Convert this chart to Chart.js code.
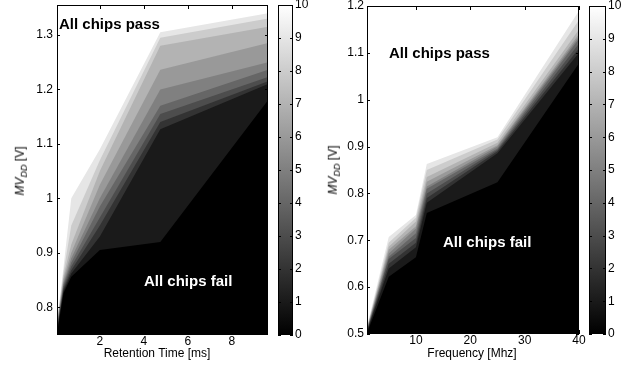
<!DOCTYPE html>
<html>
<head>
<meta charset="utf-8">
<script src="https://cdn.jsdelivr.net/npm/chart.js@4.4.0/dist/chart.umd.min.js"></script>
<style>
body { margin: 0; background: #fff; font-family: "Liberation Sans", Arial, sans-serif; }
#wrap { position: relative; width: 641px; height: 373px; overflow: hidden; }
canvas { position: absolute; }
.xt { position: absolute; font-size: 12px; line-height: 12px; white-space: nowrap; transform: translateX(-50%); }
.yt { position: absolute; font-size: 12px; line-height: 12px; white-space: nowrap; transform: translate(-50%, -50%) rotate(-90deg); }
.note { position: absolute; font-size: 15px; font-weight: bold; white-space: nowrap; }
</style>
</head>
<body>
<div id="wrap">
  <canvas id="retPlot" width="278" height="373" style="left:0;top:0"></canvas>
  <canvas id="retBar" width="45" height="373" style="left:270px;top:0"></canvas>
  <canvas id="freqPlot" width="269" height="373" style="left:320px;top:0"></canvas>
  <canvas id="freqBar" width="60" height="373" style="left:581px;top:0"></canvas>

  <div class="yt" style="left:22px;top:171px"><i>MV</i><sub style="font-size:9px"><i>DD</i></sub> [V]</div>
  <div class="yt" style="left:335px;top:170px"><i>MV</i><sub style="font-size:9px"><i>DD</i></sub> [V]</div>
  <div class="xt" style="left:157px;top:347px">Retention Time [ms]</div>
  <div class="xt" style="left:472px;top:347px">Frequency [Mhz]</div>

  <div class="note" style="left:59px;top:15px;color:#000">All chips pass</div>
  <div class="note" style="left:144px;top:272px;color:#fff">All chips fail</div>
  <div class="note" style="left:389px;top:44px;color:#000">All chips pass</div>
  <div class="note" style="left:443px;top:233px;color:#fff">All chips fail</div>
</div>

<script>
// panel 1: retention time, contour edges between 0,1,...,10 passing chips
const retTime = [0.05, 0.35, 0.7, 2, 4.75, 9.65];
const retEdges = [
  [0.752, 0.826, 0.856, 0.905, 0.92, 1.18],
  [0.755, 0.83, 0.862, 0.93, 1.127, 1.21],
  [0.758, 0.834, 0.868, 0.95, 1.14, 1.215],
  [0.761, 0.838, 0.875, 0.965, 1.155, 1.223],
  [0.764, 0.842, 0.882, 0.985, 1.17, 1.236],
  [0.767, 0.846, 0.89, 1.0, 1.2, 1.25],
  [0.769, 0.852, 0.90, 1.025, 1.236, 1.285],
  [0.771, 0.858, 0.915, 1.05, 1.28, 1.315],
  [0.773, 0.865, 0.95, 1.07, 1.295, 1.33],
  [0.775, 0.875, 1.0, 1.09, 1.305, 1.34]
];
const retXTicks = [2, 4, 6, 8];
const retYTicks = [0.8, 0.9, 1, 1.1, 1.2, 1.3];

// panel 2: frequency
const freq = [1, 5, 10, 12, 25, 40];
const freqEdges = [
  [0.502, 0.622, 0.664, 0.758, 0.824, 1.078],
  [0.505, 0.64, 0.685, 0.78, 0.886, 1.10],
  [0.506, 0.65, 0.695, 0.79, 0.89, 1.11],
  [0.507, 0.66, 0.705, 0.80, 0.893, 1.12],
  [0.508, 0.665, 0.715, 0.81, 0.896, 1.13],
  [0.510, 0.672, 0.725, 0.815, 0.90, 1.135],
  [0.511, 0.68, 0.73, 0.825, 0.903, 1.14],
  [0.512, 0.686, 0.74, 0.835, 0.908, 1.15],
  [0.514, 0.695, 0.748, 0.85, 0.915, 1.17],
  [0.516, 0.707, 0.754, 0.863, 0.92, 1.19]
];
const freqXTicks = [10, 20, 30, 40];
const freqYTicks = [0.5, 0.6, 0.7, 0.8, 0.9, 1, 1.1, 1.2];

// colorbar
const cbRange = [0, 10];
const cbTicks = [0, 1, 2, 3, 4, 5, 6, 7, 8, 9, 10];

const tickFont = { family: '"Liberation Sans", Arial, sans-serif', size: 12, lineHeight: 1 };

function gray(k) {
  const v = Math.round(k * 25.5);
  return 'rgb(' + v + ',' + v + ',' + v + ')';
}

// frame + inward tick marks, matlab style
const boxTicks = {
  id: 'boxTicks',
  afterDraw(chart) {
    const ctx = chart.ctx, a = chart.chartArea;
    ctx.save();
    ctx.strokeStyle = '#000';
    ctx.lineWidth = 1;
    ctx.strokeRect(Math.round(a.left) + 0.5, Math.round(a.top) + 0.5, Math.round(a.width) - 1, Math.round(a.height) - 1);
    ctx.beginPath();
    const sx = chart.scales.x, sy = chart.scales.y;
    if (sx.options.display !== false) {
      sx.ticks.forEach(t => {
        const p = Math.round(sx.getPixelForValue(t.value)) + 0.5;
        ctx.moveTo(p, a.bottom); ctx.lineTo(p, a.bottom - 4);
        ctx.moveTo(p, a.top); ctx.lineTo(p, a.top + 4);
      });
    }
    sy.ticks.forEach(t => {
      const p = Math.round(sy.getPixelForValue(t.value)) + 0.5;
      ctx.moveTo(a.left, p); ctx.lineTo(a.left + 3, p);
      ctx.moveTo(a.right, p); ctx.lineTo(a.right - 3, p);
    });
    ctx.stroke();
    ctx.restore();
  }
};

function contourChart(id, xs, edges, xTicks, yTicks, xMin, xMax, yMin, yMax, yWidth, yPad, padRight, padTop, bottom) {
  const datasets = edges.map((row, i) => ({
    data: xs.map((x, j) => ({ x: x, y: row[j] })),
    fill: 'start',
    backgroundColor: gray(i),
    borderWidth: 0,
    pointRadius: 0,
    tension: 0
  }));
  return new Chart(document.getElementById(id), {
    type: 'line',
    data: { datasets: datasets },
    options: {
      responsive: false,
      animation: false,
      events: [],
      layout: { padding: { left: 0, right: padRight, top: padTop, bottom: 0 } },
      plugins: { legend: { display: false }, tooltip: { enabled: false } },
      scales: {
        x: {
          type: 'linear', min: xMin, max: xMax,
          grid: { display: false, drawTicks: false },
          border: { display: false },
          afterBuildTicks: s => { s.ticks = xTicks.map(v => ({ value: v })); },
          afterFit: s => { s.height = 373 - bottom; s.paddingLeft = 0; s.paddingRight = 0; },
          ticks: { font: tickFont, color: '#000', padding: 1, maxRotation: 0, callback: v => String(v) }
        },
        y: {
          min: yMin, max: yMax,
          grid: { display: false, drawTicks: false },
          border: { display: false },
          afterBuildTicks: s => { s.ticks = yTicks.map(v => ({ value: v })); },
          afterFit: s => { s.width = yWidth; s.paddingTop = 0; s.paddingBottom = 0; },
          ticks: { font: tickFont, color: '#000', padding: yPad, callback: v => String(v) }
        }
      }
    },
    plugins: [boxTicks]
  });
}

function colorBar(id, padLeft, axisWidth, padTop, padBottom) {
  return new Chart(document.getElementById(id), {
    type: 'bar',
    data: {
      labels: [''],
      datasets: [{
        data: [cbRange],
        barPercentage: 1,
        categoryPercentage: 1,
        borderWidth: 0,
        backgroundColor: c => {
          const a = c.chart.chartArea;
          if (!a) return '#808080';
          const g = c.chart.ctx.createLinearGradient(0, a.bottom, 0, a.top);
          g.addColorStop(0, '#000');
          g.addColorStop(1, '#fff');
          return g;
        }
      }]
    },
    options: {
      responsive: false,
      animation: false,
      events: [],
      layout: { padding: { left: padLeft, right: 0, top: padTop, bottom: padBottom } },
      plugins: { legend: { display: false }, tooltip: { enabled: false } },
      scales: {
        x: { display: false },
        y: {
          position: 'right', min: cbRange[0], max: cbRange[1],
          grid: { display: false, drawTicks: false },
          border: { display: false },
          afterBuildTicks: s => { s.ticks = cbTicks.map(v => ({ value: v })); },
          afterFit: s => { s.width = axisWidth; s.paddingTop = 0; s.paddingBottom = 0; },
          ticks: { font: tickFont, color: '#000', padding: 2 }
        }
      }
    },
    plugins: [boxTicks]
  });
}

contourChart('retPlot', retTime, retEdges, retXTicks, retYTicks, 0.05, 9.65, 0.749, 1.355, 57, 4, 10, 5, 335);
contourChart('freqPlot', freq, freqEdges, freqXTicks, freqYTicks, 1, 40, 0.5, 1.2, 47, 3, 10, 6, 334);
colorBar('retBar', 8, 22, 5, 38);
colorBar('freqBar', 8, 35, 6, 39);
</script>
</body>
</html>
